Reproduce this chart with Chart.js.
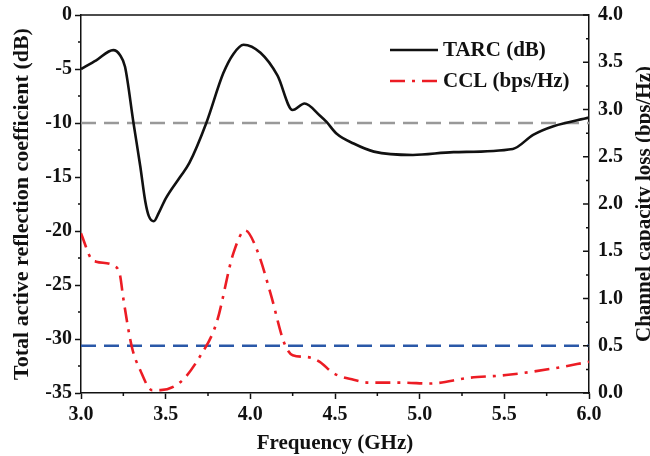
<!DOCTYPE html>
<html>
<head>
<meta charset="utf-8">
<script src="https://cdn.jsdelivr.net/npm/chart.js@4.4.1/dist/chart.umd.min.js"></script>
<style>
    html, body { margin: 0; padding: 0; background: #fff; }
    #wrap { width: 650px; height: 456px; }
</style>
</head>
<body>
<div id="wrap"><canvas id="chart" width="650" height="456"></canvas></div>
<script>
// Frequency points (GHz) and TARC values (dB)
const tarcFreq = [3.00, 3.09, 3.19, 3.23, 3.26, 3.31, 3.35, 3.38, 3.40, 3.43, 3.46, 3.50, 3.585, 3.64, 3.74, 3.84, 3.90, 3.96,
    4.06, 4.16, 4.25, 4.32, 4.41, 4.45, 4.51, 4.61, 4.73, 4.96, 5.20, 5.55, 5.67, 5.79, 6.00];
const tarcValues = [-5.0, -4.2, -3.25, -3.7, -4.8, -10.0, -14.0, -17.3, -18.6, -19.1, -18.3, -17.0, -15.0, -13.7, -10.0, -5.4, -3.6, -2.75,
    -3.5, -5.6, -8.8, -8.2, -9.3, -9.9, -11.0, -11.9, -12.65, -12.96, -12.7, -12.4, -11.1, -10.3, -9.5];

// Frequency points (GHz) and CCL values (bps/Hz)
const cclFreq = [3.00, 3.06, 3.09, 3.20, 3.23, 3.25, 3.30, 3.35, 3.42, 3.47, 3.59, 3.70, 3.80, 3.90, 3.97, 4.04, 4.12, 4.20,
    4.25, 4.34, 4.41, 4.49, 4.61, 4.70, 4.90, 5.06, 5.29, 5.51, 5.79, 6.00];
const cclValues = [1.69, 1.42, 1.39, 1.34, 1.25, 1.00, 0.49, 0.24, 0.03, 0.03, 0.12, 0.38, 0.74, 1.48, 1.72, 1.51, 1.05, 0.53,
    0.40, 0.38, 0.33, 0.21, 0.14, 0.11, 0.11, 0.10, 0.16, 0.19, 0.26, 0.33];

// Threshold lines
const tarcLimit = -10;
const cclLimit = 0.5;

// Tick labels
const freqTicks = [3.0, 3.5, 4.0, 4.5, 5.0, 5.5, 6.0];
const tarcTicks = [0, -5, -10, -15, -20, -25, -30, -35];
const cclTicks = [0, 0.5, 1.0, 1.5, 2.0, 2.5, 3.0, 3.5, 4.0];

const cclTitle = 'Channel capacity loss (bps/Hz)';

const INK = '#111';
const FONT = 'Liberation Serif, Times New Roman, serif';
const tickFont = { family: FONT, size: 20, weight: 'bold' };
const titleFont = { family: FONT, size: 21, weight: 'bold' };

const toPoints = (xs, ys) => xs.map((x, i) => ({ x: x, y: ys[i] }));

// Minor ticks, top frame line, inward ticks and title on the right axis, legend
const extras = {
    id: 'extras',
    afterDraw(chart) {
        const ctx = chart.ctx;
        const a = chart.chartArea;
        const { x, y, y1 } = chart.scales;
        ctx.save();
        ctx.strokeStyle = INK;
        ctx.lineWidth = 1.5;

        ctx.beginPath();
        ctx.moveTo(a.left, a.top);
        ctx.lineTo(a.right, a.top);
        ctx.stroke();

        ctx.beginPath();
        for (let i = 0; i < freqTicks.length - 1; i++) {
            const px = x.getPixelForValue((freqTicks[i] + freqTicks[i + 1]) / 2);
            ctx.moveTo(px, a.bottom);
            ctx.lineTo(px, a.bottom + 3);
        }
        for (let i = 0; i < tarcTicks.length - 1; i++) {
            const py = y.getPixelForValue((tarcTicks[i] + tarcTicks[i + 1]) / 2);
            ctx.moveTo(a.left, py);
            ctx.lineTo(a.left - 3, py);
        }
        cclTicks.forEach((v, i) => {
            const py = y1.getPixelForValue(v);
            ctx.moveTo(a.right, py);
            ctx.lineTo(a.right - 6, py);
            if (i < cclTicks.length - 1) {
                const pm = y1.getPixelForValue((v + cclTicks[i + 1]) / 2);
                ctx.moveTo(a.right, pm);
                ctx.lineTo(a.right - 3, pm);
            }
        });
        ctx.stroke();

        // right axis title, reading bottom to top
        ctx.save();
        ctx.translate(chart.width, (a.top + a.bottom) / 2);
        ctx.rotate(-Math.PI / 2);
        ctx.font = 'bold 21px ' + FONT;
        ctx.fillStyle = INK;
        ctx.textAlign = 'center';
        ctx.textBaseline = 'alphabetic';
        ctx.fillText(cclTitle, 0, 0);
        ctx.restore();

        // legend
        const items = chart.data.datasets.filter(d => d.showInLegend);
        ctx.font = 'bold 21px ' + FONT;
        ctx.textBaseline = 'middle';
        items.forEach((d, i) => {
            const ly = 50 + i * 31;
            ctx.strokeStyle = d.borderColor;
            ctx.lineWidth = d.borderWidth;
            ctx.setLineDash(d.borderDash || []);
            ctx.beginPath();
            ctx.moveTo(390, ly);
            ctx.lineTo(438, ly);
            ctx.stroke();
            ctx.setLineDash([]);
            ctx.fillStyle = INK;
            ctx.fillText(d.label, 443, ly + 1);
        });
        ctx.restore();
    }
};

const ctx = document.getElementById('chart').getContext('2d');
new Chart(ctx, {
    type: 'line',
    data: {
        datasets: [
            {
                label: 'TARC (dB)',
                showInLegend: true,
                data: toPoints(tarcFreq, tarcValues),
                yAxisID: 'y',
                borderColor: '#111',
                borderWidth: 2.6,
                pointRadius: 0,
                cubicInterpolationMode: 'monotone',
                fill: false
            },
            {
                label: 'CCL (bps/Hz)',
                showInLegend: true,
                data: toPoints(cclFreq, cclValues),
                yAxisID: 'y1',
                borderColor: '#ec1c24',
                borderWidth: 2.6,
                borderDash: [15, 7, 3, 7],
                pointRadius: 0,
                cubicInterpolationMode: 'monotone',
                fill: false
            },
            {
                label: 'TARC limit',
                data: toPoints([freqTicks[0], freqTicks[freqTicks.length - 1]], [tarcLimit, tarcLimit]),
                yAxisID: 'y',
                borderColor: '#999999',
                borderWidth: 2.6,
                borderDash: [15, 8],
                pointRadius: 0
            },
            {
                label: 'CCL limit',
                data: toPoints([freqTicks[0], freqTicks[freqTicks.length - 1]], [cclLimit, cclLimit]),
                yAxisID: 'y1',
                borderColor: '#2a58a8',
                borderWidth: 2.6,
                borderDash: [15, 8],
                pointRadius: 0
            }
        ]
    },
    options: {
        responsive: false,
        animation: false,
        layout: { padding: { top: 11, left: 0, right: 0, bottom: 0 } },
        plugins: {
            legend: { display: false },
            tooltip: { enabled: false }
        },
        scales: {
            x: {
                type: 'linear',
                min: 3,
                max: 6,
                afterBuildTicks: s => { s.ticks = freqTicks.map(v => ({ value: v })); },
                afterFit: s => { s.height = 63; },
                ticks: { callback: v => v.toFixed(1), font: tickFont, color: INK, padding: 4, maxRotation: 0, autoSkip: false },
                grid: { drawOnChartArea: false, tickLength: 6, tickColor: INK, tickWidth: 1.5 },
                border: { color: INK, width: 1.5 },
                title: { display: true, text: 'Frequency (GHz)', font: titleFont, color: INK, padding: { top: -5, bottom: 0 } }
            },
            y: {
                type: 'linear',
                position: 'left',
                min: -35,
                max: 0,
                afterBuildTicks: s => { s.ticks = tarcTicks.map(v => ({ value: v })); },
                afterFit: s => { s.width = 81; },
                ticks: { callback: v => String(v), font: tickFont, color: INK, padding: 3, autoSkip: false },
                grid: { drawOnChartArea: false, tickLength: 6, tickColor: INK, tickWidth: 1.5 },
                border: { color: INK, width: 1.5 },
                title: { display: true, text: 'Total active reflection coefficient (dB)', font: { family: FONT, size: 22, weight: 'bold' }, color: INK, padding: { top: 9, bottom: 0 } }
            },
            y1: {
                type: 'linear',
                position: 'right',
                min: 0,
                max: 4,
                afterBuildTicks: s => { s.ticks = cclTicks.map(v => ({ value: v })); },
                afterFit: s => { s.width = 61; },
                ticks: { callback: v => v.toFixed(1), font: tickFont, color: INK, padding: 3, autoSkip: false },
                grid: { drawOnChartArea: false, tickLength: 6, tickColor: 'rgba(0,0,0,0)' },
                border: { color: INK, width: 1.5 },
                title: { display: false }
            }
        }
    },
    plugins: [extras]
});
</script>
</body>
</html>
